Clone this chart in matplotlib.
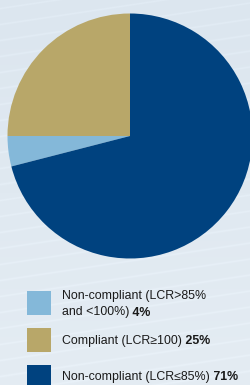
import numpy as np
import matplotlib
matplotlib.use("Agg")
import matplotlib.pyplot as plt

plt.rcParams['font.family'] = ['Liberation Sans', 'DejaVu Sans']

# Data
labels = ["Compliant (LCR\u2265100)", "Non-compliant (LCR>85%\nand <100%)", "Non-compliant (LCR\u226485%)"]
values = [25, 4, 71]
colors = ["#b8a769", "#84b8d9", "#00427f"]
legend_order = [1, 0, 2]

W, H = 250, 385
fig = plt.figure(figsize=(W / 100, H / 100), dpi=100)

# Background with faint stripes
bg = fig.add_axes([0, 0, 1, 1])
yy, xx = np.mgrid[0:H, 0:W]
c_top = np.array([0xdc, 0xe6, 0xef]) / 255
c_bot = np.array([0xe4, 0xec, 0xf3]) / 255
t = (yy / H)[..., None]
base = c_top * (1 - t) + c_bot * t
phase = (yy + xx * 0.15) % 16
stripe = np.exp(-((phase - 8) ** 2) / 1.0)[..., None] * 0.02
img = np.clip(base + stripe, 0, 1)
bg.imshow(img, extent=[0, W, 0, H], origin='upper', aspect='auto', interpolation='bilinear')
bg.set_xlim(0, W)
bg.set_ylim(0, H)
bg.axis('off')

# Pie
cx, cy, r = 130, 136, 122.5
ax = fig.add_axes([(cx - r) / W, (H - cy - r) / H, 2 * r / W, 2 * r / H])
ax.pie(values, colors=colors, startangle=90, counterclock=True, radius=1,
       wedgeprops=dict(linewidth=0))
ax.set_xlim(-1, 1)
ax.set_ylim(-1, 1)
ax.set_aspect('equal')
ax.axis('off')
for p in ax.patches:
    p.set_clip_on(False)

# Legend (drawn in pixel coords on background axes)
fs = 8.9
pcts = [f"{v}%" for v in values]
sq_y = [290.5, 328, 364.5]
txt_y = [[296, 312.5], [341], [377]]
for k, i in enumerate(legend_order):
    y0 = sq_y[k]
    bg.add_patch(plt.Rectangle((27, H - y0 - 24), 24, 24, color=colors[i], lw=0))
    lines = labels[i].split('\n')
    ref = None
    for line, ly in zip(lines, txt_y[k]):
        ref = bg.text(62, H - ly, line, fontsize=fs, color='#1a1a1a',
                      va='center', ha='left')
    bg.annotate(" " + pcts[i], xy=(1, 0.5), xycoords=ref, va='center', ha='left',
                fontsize=fs, fontweight='bold', color='#1a1a1a')

fig.savefig("out.png", dpi=100)
